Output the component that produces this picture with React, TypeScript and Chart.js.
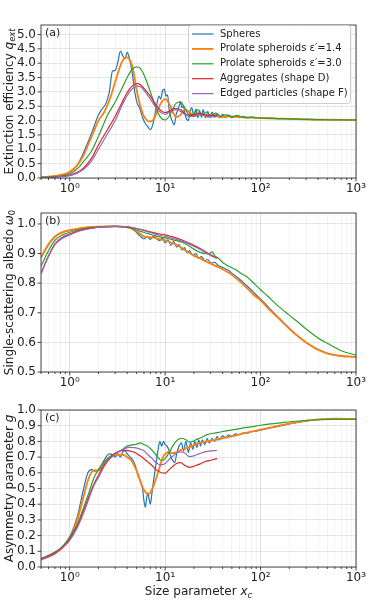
import React, { useEffect, useRef } from 'react';
import { Chart, registerables } from 'chart.js';
Chart.register(...registerables);

const FONT = '"DejaVu Sans", sans-serif';

const SERIES_LABELS = ['Spheres', 'Prolate spheroids ε′=1.4', 'Prolate spheroids ε′=3.0', 'Aggregates (shape D)', 'Edged particles (shape F)'];
const SERIES_COLORS = ['#1f77b4', '#ff7f0e', '#2ca02c', '#d62728', '#9467bd'];
const SERIES_WIDTHS = [1.2, 1.8, 1.2, 1.2, 1.2];

const X_MIN = 0.5;
const X_MAX = 1000;
const X_MAJOR = [1, 10, 100, 1000];
const X_MAJOR_LABELS = ['10⁰', '10¹', '10²', '10³'];

const Y_TICKS_A = [0, 0.5, 1, 1.5, 2, 2.5, 3, 3.5, 4, 4.5, 5];
const Y_TICKS_B = [0.5, 0.6, 0.7, 0.8, 0.9, 1.0];
const Y_TICKS_C = [0, 0.1, 0.2, 0.3, 0.4, 0.5, 0.6, 0.7, 0.8, 0.9, 1.0];

// ---------- Panel (a): extinction efficiency ----------
const xA_sph = [0.5,0.7,1,1.2,1.4,1.6,1.8,2,2.2,2.4,2.6,2.8,3,3.2,3.4,3.6,3.8,4,4.2,4.5,4.8,5.1,5.4,5.8,6.2,6.6,7,7.4,7.8,8.2,8.6,9,9.4,9.8,10.2,10.6,11,11.5,12,12.5,13,13.5,14,14.5,15,15.6,16.2,16.8,17.5,18.2,19,20,21,22,23,24,25,26.5,28,29.5,31,33,35,37,40,43,46,50,55,60,66,72,80,90,100,150,200,300,500,1000];
const yA_sph = [0.02,0.06,0.2,0.45,0.9,1.35,1.8,2.2,2.42,2.6,3.0,3.72,3.75,4.05,4.42,4.25,4.15,4.38,4.2,3.7,3.0,2.6,2.45,2.1,1.9,1.78,1.68,1.85,2.2,2.6,2.85,2.75,3.05,3.1,2.85,2.9,2.4,2.1,1.95,1.85,2.2,2.35,2.5,2.65,2.45,2.5,2.2,2.05,2.0,2.3,2.45,2.15,2.4,2.1,2.35,2.12,2.38,2.1,2.32,2.1,2.3,2.12,2.25,2.1,2.22,2.1,2.2,2.1,2.17,2.1,2.15,2.09,2.12,2.09,2.1,2.07,2.06,2.04,2.03,2.02];
const xA_p14 = [0.5,0.7,1,1.2,1.4,1.6,1.8,2,2.3,2.6,3,3.3,3.6,3.9,4.2,4.6,5,5.5,6,6.5,7,7.5,8,9,10,11,12,13,14.5,16,18,20,22,25,28,32,36,40,50,60,80,100,150,200,300,500,1000];
const yA_p14 = [0.03,0.07,0.22,0.45,0.8,1.25,1.65,2.0,2.3,2.7,3.35,3.8,4.1,4.2,4.15,3.8,3.1,2.5,2.15,2.0,1.97,2.02,2.2,2.6,2.75,2.6,2.3,2.12,2.2,2.38,2.3,2.15,2.25,2.2,2.13,2.2,2.15,2.12,2.15,2.12,2.1,2.09,2.07,2.06,2.04,2.03,2.02];
const xA_p30 = [0.5,0.7,1,1.2,1.4,1.7,2,2.5,3,3.5,4,4.5,5,5.5,6,6.5,7,8,9,10,11,12,13,14.5,16,18,20,22,24,27,30,34,38,43,50,58,66,80,100,150,200,300,500,1000];
const yA_p30 = [0.02,0.05,0.14,0.32,0.58,0.95,1.45,2.2,2.65,3.1,3.5,3.78,3.87,3.82,3.6,3.3,3.0,2.45,2.1,2.02,2.15,2.4,2.6,2.65,2.45,2.2,2.25,2.38,2.2,2.3,2.18,2.26,2.15,2.2,2.13,2.17,2.11,2.12,2.09,2.07,2.06,2.04,2.03,2.02];
const xA_agg = [0.5,0.7,1,1.2,1.4,1.7,2,2.5,3,3.5,4,4.5,5,5.5,6,7,8,9,10,11,12,13,14.5,16,18,20,23,26,30,35];
const yA_agg = [0.01,0.03,0.1,0.2,0.35,0.7,1.15,1.7,2.15,2.6,2.98,3.2,3.29,3.25,3.12,2.85,2.55,2.35,2.28,2.32,2.4,2.43,2.38,2.25,2.18,2.2,2.25,2.2,2.17,2.18];
const xA_edg = xA_agg;
const yA_edg = [0.01,0.03,0.08,0.17,0.3,0.6,1.0,1.55,2.0,2.5,2.88,3.1,3.2,3.18,3.05,2.75,2.45,2.28,2.22,2.28,2.35,2.38,2.32,2.22,2.15,2.15,2.2,2.16,2.13,2.14];

// ---------- Panel (b): single-scattering albedo ----------
const xB_sph = [0.5,0.6,0.7,0.85,1,1.3,1.7,2.2,3,3.8,4.5,5,5.5,6,6.5,7,7.5,8,8.7,9.4,10,10.7,11.5,12.3,13.2,14,15,16,17,18,19.5,21,22.5,24,26,28,30,33,36,40,45,50,56,63,70,80,90,100,120,150,200,300,500,700,1000];
const yB_sph = [0.885,0.93,0.956,0.972,0.978,0.985,0.989,0.991,0.992,0.99,0.983,0.972,0.958,0.95,0.957,0.948,0.958,0.952,0.944,0.952,0.936,0.946,0.928,0.94,0.922,0.93,0.912,0.92,0.902,0.91,0.893,0.9,0.884,0.89,0.876,0.88,0.868,0.87,0.86,0.853,0.845,0.834,0.822,0.808,0.794,0.777,0.76,0.747,0.72,0.688,0.648,0.6,0.563,0.554,0.551];
const xB_p14 = [0.5,0.6,0.7,0.85,1,1.3,1.7,2.2,3,3.8,4.5,5,5.5,6,7,8,9,10,11,12,13,14,16,18,20,23,26,30,35,40,50,60,70,85,100,120,150,200,250,300,400,500,700,1000];
const yB_p14 = [0.888,0.932,0.958,0.973,0.979,0.986,0.99,0.991,0.992,0.99,0.984,0.976,0.966,0.958,0.955,0.952,0.947,0.945,0.94,0.935,0.93,0.925,0.912,0.902,0.893,0.884,0.875,0.866,0.856,0.847,0.828,0.807,0.787,0.76,0.742,0.715,0.685,0.646,0.619,0.6,0.575,0.563,0.554,0.551];
const xB_p30 = [0.5,0.6,0.7,0.85,1,1.3,1.7,2.2,3,3.8,4.5,5.5,6.5,7.5,8.5,10,11.5,13,15,17,20,23,26,29,31,33,36,40,45,50,55,60,65,70,80,100,120,150,200,250,300,400,500,700,1000];
const yB_p30 = [0.857,0.91,0.945,0.964,0.972,0.982,0.988,0.991,0.992,0.99,0.985,0.975,0.968,0.962,0.957,0.953,0.948,0.944,0.938,0.93,0.915,0.905,0.9,0.9,0.906,0.893,0.885,0.87,0.86,0.852,0.845,0.837,0.83,0.824,0.808,0.778,0.755,0.725,0.692,0.667,0.645,0.615,0.597,0.572,0.557];
const xB_agg = [0.5,0.6,0.7,0.85,1,1.3,1.7,2.2,3,3.8,4.5,5.5,6.5,7.5,8.5,10,11.5,13,15,17,19,22,25,28,31,35];
const yB_agg = [0.834,0.893,0.933,0.956,0.966,0.979,0.986,0.99,0.992,0.991,0.988,0.982,0.976,0.971,0.967,0.963,0.958,0.953,0.946,0.938,0.931,0.921,0.911,0.901,0.893,0.885];
const xB_edg = xB_agg;
const yB_edg = [0.831,0.89,0.93,0.953,0.963,0.977,0.985,0.99,0.992,0.991,0.988,0.981,0.974,0.968,0.963,0.958,0.953,0.948,0.942,0.935,0.928,0.918,0.908,0.899,0.891,0.883];

// ---------- Panel (c): asymmetry parameter ----------
const xC_sph = [0.5,0.7,0.85,1,1.2,1.4,1.55,1.7,1.85,2,2.2,2.4,2.6,2.8,3,3.2,3.4,3.6,3.8,4,4.3,4.6,4.9,5.2,5.5,5.8,6,6.2,6.4,6.6,6.8,7,7.3,7.6,8,8.4,8.8,9.2,9.6,10,10.5,11,11.5,12,12.6,13.2,14,14.8,15.6,16.5,17.5,18.5,19.5,20.5,21.5,22.5,23.5,24.5,26,27.5,29,31,33,35,37,40,43,46,50,55,60,66,72,80,90,100,130,170,250,400,600,1000];
const yC_sph = [0.05,0.09,0.13,0.19,0.32,0.5,0.6,0.62,0.61,0.62,0.66,0.7,0.72,0.715,0.7,0.72,0.7,0.735,0.74,0.72,0.7,0.68,0.64,0.58,0.55,0.5,0.42,0.38,0.44,0.47,0.43,0.4,0.48,0.56,0.65,0.74,0.8,0.77,0.8,0.78,0.77,0.74,0.7,0.68,0.665,0.72,0.77,0.79,0.74,0.8,0.73,0.79,0.75,0.8,0.76,0.81,0.77,0.81,0.78,0.82,0.79,0.82,0.8,0.83,0.81,0.835,0.825,0.84,0.833,0.848,0.843,0.855,0.852,0.862,0.866,0.872,0.887,0.902,0.922,0.938,0.943,0.945];
const xC_p14 = [0.5,0.7,0.85,1,1.2,1.4,1.6,1.8,2,2.2,2.5,2.8,3.2,3.6,4,4.4,4.8,5.2,5.6,6,6.4,6.8,7.2,7.6,8,8.5,9,9.5,10,11,12,13,14.5,16.5,19,23,28,34,42,52,65,80,100,130,170,250,400,600,1000];
const yC_p14 = [0.045,0.085,0.125,0.18,0.3,0.45,0.575,0.615,0.615,0.64,0.69,0.71,0.715,0.715,0.7,0.68,0.64,0.59,0.53,0.49,0.47,0.466,0.49,0.52,0.56,0.61,0.66,0.7,0.72,0.735,0.725,0.73,0.745,0.756,0.77,0.79,0.8,0.81,0.822,0.835,0.85,0.862,0.875,0.89,0.905,0.925,0.94,0.945,0.943];
const xC_p30 = [0.5,0.7,0.85,1,1.2,1.4,1.6,1.8,2,2.3,2.6,3,3.5,4,4.5,5,5.5,6,6.5,7,7.5,8,8.5,9,9.5,10,11,12,13,14,15,16.5,18,19.5,21,23,25,28,32,36,42,50,65,80,100,130,170,250,400,600,1000];
const yC_p30 = [0.055,0.095,0.135,0.19,0.27,0.38,0.48,0.57,0.62,0.67,0.7,0.725,0.745,0.77,0.778,0.782,0.79,0.78,0.77,0.755,0.735,0.715,0.695,0.68,0.68,0.69,0.73,0.77,0.8,0.815,0.82,0.81,0.795,0.8,0.81,0.82,0.83,0.845,0.852,0.857,0.865,0.873,0.885,0.893,0.903,0.912,0.92,0.93,0.938,0.94,0.941];
const xC_agg = [0.5,0.7,0.85,1,1.2,1.4,1.6,1.8,2,2.3,2.6,3,3.4,3.8,4.2,4.8,5.4,6,6.6,7.2,8,9,10,11,12,13,14.5,16,18,20,23,26,30,35];
const yC_agg = [0.05,0.09,0.13,0.18,0.26,0.36,0.455,0.53,0.585,0.65,0.69,0.725,0.74,0.745,0.74,0.73,0.71,0.69,0.668,0.65,0.62,0.602,0.598,0.62,0.64,0.658,0.665,0.648,0.635,0.642,0.655,0.67,0.68,0.69];
const xC_edg = xC_agg;
const yC_edg = [0.045,0.085,0.125,0.17,0.25,0.345,0.44,0.52,0.57,0.64,0.685,0.72,0.74,0.755,0.762,0.76,0.752,0.74,0.715,0.695,0.665,0.65,0.66,0.685,0.705,0.725,0.733,0.728,0.703,0.708,0.722,0.733,0.74,0.742];

type Part = { t: string; it?: boolean; sub?: boolean };

const Y_TITLE_A: Part[] = [{ t: 'Extinction efficiency ' }, { t: 'q', it: true }, { t: 'ext', it: true, sub: true }];
const Y_TITLE_B: Part[] = [{ t: 'Single-scattering albedo ' }, { t: 'ω', it: true }, { t: '0', sub: true }];
const Y_TITLE_C: Part[] = [{ t: 'Asymmetry parameter ' }, { t: 'g', it: true }];
const X_TITLE: Part[] = [{ t: 'Size parameter ' }, { t: 'x', it: true }, { t: 'c', it: true, sub: true }];

const isMajor = (v: number) => Math.abs(Math.log10(v) - Math.round(Math.log10(v))) < 1e-9;

const X_TICKS: number[] = (() => {
  const out: number[] = [];
  for (let e = -1; e <= 3; e++) {
    for (let m = 1; m <= 9; m++) {
      const v = m * Math.pow(10, e);
      if (v >= X_MIN - 1e-9 && v <= X_MAX + 1e-9) out.push(v);
    }
  }
  return out;
})();

function fontFor(p: Part, size: number) {
  return `${p.it ? 'italic ' : ''}${p.sub ? size * 0.7 : size}px ${FONT}`;
}

function drawRich(ctx: CanvasRenderingContext2D, parts: Part[], size: number, x: number, y: number) {
  const widths = parts.map((p) => {
    ctx.font = fontFor(p, size);
    return ctx.measureText(p.t).width;
  });
  const total = widths.reduce((a, b) => a + b, 0);
  let cx = x - total / 2;
  ctx.textAlign = 'left';
  ctx.textBaseline = 'middle';
  parts.forEach((p, i) => {
    ctx.font = fontFor(p, size);
    ctx.fillText(p.t, cx, y + (p.sub ? size * 0.28 : 0));
    cx += widths[i];
  });
}

type PanelCfg = {
  top: number;
  height: number;
  padTop: number;
  xH: number;
  yMin: number;
  yMax: number;
  yTicks: number[];
  yTitle: Part[];
  label: string;
  legend?: boolean;
  xTitle?: Part[];
  series: [number[], number[]][];
};

function makeDecor(cfg: PanelCfg) {
  return {
    id: 'decor',
    afterDraw(chart: any) {
      const ctx: CanvasRenderingContext2D = chart.ctx;
      const { left, right, top, bottom } = chart.chartArea;
      const xs = chart.scales.x;
      const ys = chart.scales.y;
      ctx.save();
      // frame
      ctx.strokeStyle = '#333';
      ctx.lineWidth = 0.9;
      ctx.strokeRect(left, top, right - left, bottom - top);
      // ticks
      ctx.beginPath();
      X_TICKS.forEach((v) => {
        const px = xs.getPixelForValue(v);
        const len = isMajor(v) ? 3.5 : 2;
        ctx.moveTo(px, bottom);
        ctx.lineTo(px, bottom + len);
      });
      cfg.yTicks.forEach((v) => {
        const py = ys.getPixelForValue(v);
        ctx.moveTo(left, py);
        ctx.lineTo(left - 3.5, py);
      });
      ctx.stroke();
      // panel label
      ctx.fillStyle = '#222';
      ctx.font = `11px ${FONT}`;
      ctx.textAlign = 'left';
      ctx.textBaseline = 'middle';
      ctx.fillText(cfg.label, left + 4, top + 8.5);
      // y title
      ctx.save();
      ctx.translate(9.5, (top + bottom) / 2);
      ctx.rotate(-Math.PI / 2);
      ctx.fillStyle = '#222';
      drawRich(ctx, cfg.yTitle, 12, 0, 0);
      ctx.restore();
      // x title
      if (cfg.xTitle) {
        ctx.fillStyle = '#222';
        drawRich(ctx, cfg.xTitle, 12, (left + right) / 2, bottom + 25);
      }
      // legend
      if (cfg.legend) {
        const w = 162;
        const h = 78;
        const x0 = right - 5.5 - w;
        const y0 = top + 0.5;
        ctx.fillStyle = 'rgba(255,255,255,0.85)';
        ctx.strokeStyle = '#cccccc';
        ctx.lineWidth = 1;
        ctx.beginPath();
        (ctx as any).roundRect(x0, y0, w, h, 3);
        ctx.fill();
        ctx.stroke();
        SERIES_LABELS.forEach((lab, i) => {
          const ry = y0 + 8.5 + 14.9 * i;
          ctx.strokeStyle = SERIES_COLORS[i];
          ctx.lineWidth = SERIES_WIDTHS[i];
          ctx.beginPath();
          ctx.moveTo(x0 + 3.5, ry);
          ctx.lineTo(x0 + 25, ry);
          ctx.stroke();
          ctx.fillStyle = '#222';
          ctx.font = `10px ${FONT}`;
          ctx.textAlign = 'left';
          ctx.textBaseline = 'middle';
          ctx.fillText(lab, x0 + 31.5, ry);
        });
      }
      ctx.restore();
    },
  };
}

function Panel({ cfg }: { cfg: PanelCfg }) {
  const ref = useRef<HTMLCanvasElement | null>(null);
  useEffect(() => {
    if (!ref.current) return;
    const datasets = cfg.series.map(([xs, ys], i) => ({
      label: SERIES_LABELS[i],
      data: xs.map((x, j) => ({ x, y: ys[j] })),
      borderColor: SERIES_COLORS[i],
      backgroundColor: SERIES_COLORS[i],
      borderWidth: SERIES_WIDTHS[i],
      pointRadius: 0,
      fill: false,
      cubicInterpolationMode: 'monotone' as const,
      order: 5 - i,
    }));
    const chart = new Chart(ref.current, {
      type: 'line',
      data: { datasets },
      options: {
        animation: false,
        responsive: false,
        devicePixelRatio: 1,
        events: [],
        layout: { padding: { top: cfg.padTop, right: 26, left: 0, bottom: 0 } },
        plugins: { legend: { display: false }, tooltip: { enabled: false } },
        scales: {
          x: {
            type: 'logarithmic',
            min: X_MIN,
            max: X_MAX,
            afterBuildTicks: (s: any) => {
              s.ticks = X_TICKS.map((v) => ({ value: v, major: isMajor(v) }));
            },
            afterFit: (s: any) => {
              s.height = cfg.xH;
            },
            ticks: {
              autoSkip: false,
              maxRotation: 0,
              minRotation: 0,
              padding: 4,
              color: '#222',
              font: { family: FONT, size: 12 },
              callback: (v: any) => {
                const n = Number(v);
                const idx = X_MAJOR.findIndex((m) => Math.abs(m - n) < 1e-9 * m);
                return idx >= 0 ? X_MAJOR_LABELS[idx] : '';
              },
            },
            grid: {
              drawTicks: false,
              lineWidth: 0.8,
              color: (c: any) => (c.tick && isMajor(c.tick.value) ? 'rgba(0,0,0,0.14)' : 'rgba(0,0,0,0.06)'),
            },
            border: { display: false },
          },
          y: {
            type: 'linear',
            min: cfg.yMin,
            max: cfg.yMax,
            afterBuildTicks: (s: any) => {
              s.ticks = cfg.yTicks.map((v) => ({ value: v }));
            },
            afterFit: (s: any) => {
              s.width = 41;
            },
            ticks: {
              autoSkip: false,
              padding: 5,
              color: '#222',
              font: { family: FONT, size: 12 },
              callback: (v: any) => Number(v).toFixed(1),
            },
            grid: { drawTicks: false, lineWidth: 0.8, color: 'rgba(0,0,0,0.12)' },
            border: { display: false },
          },
        },
      } as any,
      plugins: [makeDecor(cfg)],
    });
    return () => chart.destroy();
  }, [cfg]);
  return (
    <canvas
      ref={ref}
      width={382}
      height={cfg.height}
      style={{ position: 'absolute', left: 0, top: cfg.top, width: 382, height: cfg.height }}
    />
  );
}

const PANEL_A: PanelCfg = {
  top: 0, height: 195, padTop: 25, xH: 17, yMin: 0, yMax: 5.33, yTicks: Y_TICKS_A,
  yTitle: Y_TITLE_A, label: '(a)', legend: true,
  series: [[xA_sph, yA_sph], [xA_p14, yA_p14], [xA_p30, yA_p30], [xA_agg, yA_agg], [xA_edg, yA_edg]],
};
const PANEL_B: PanelCfg = {
  top: 195, height: 200, padTop: 18, xH: 23, yMin: 0.5, yMax: 1.037, yTicks: Y_TICKS_B,
  yTitle: Y_TITLE_B, label: '(b)',
  series: [[xB_sph, yB_sph], [xB_p14, yB_p14], [xB_p30, yB_p30], [xB_agg, yB_agg], [xB_edg, yB_edg]],
};
const PANEL_C: PanelCfg = {
  top: 395, height: 205, padTop: 15, xH: 33, yMin: 0, yMax: 1.0, yTicks: Y_TICKS_C,
  yTitle: Y_TITLE_C, label: '(c)', xTitle: X_TITLE,
  series: [[xC_sph, yC_sph], [xC_p14, yC_p14], [xC_p30, yC_p30], [xC_agg, yC_agg], [xC_edg, yC_edg]],
};

export default function App() {
  return (
    <div style={{ position: 'fixed', left: 0, top: 0, width: 382, height: 600, background: '#fff', overflow: 'hidden' }}>
      <Panel cfg={PANEL_A} />
      <Panel cfg={PANEL_B} />
      <Panel cfg={PANEL_C} />
    </div>
  );
}
